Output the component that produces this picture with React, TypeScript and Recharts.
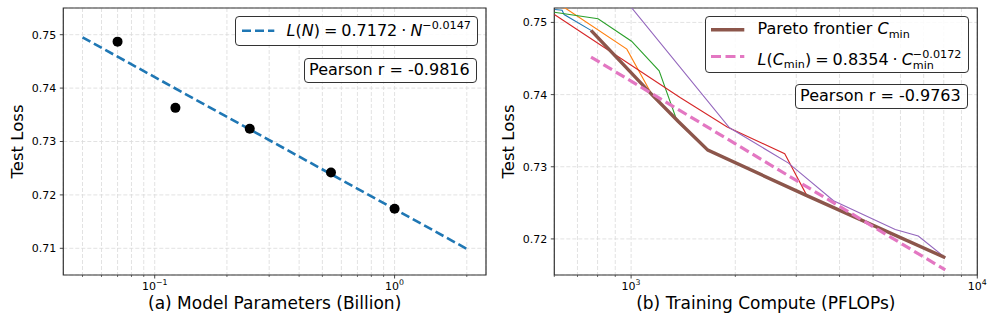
import React from 'react';
import { ComposedChart, Line, Scatter, XAxis, YAxis, CartesianGrid, ReferenceArea, Label } from 'recharts';

const FONT = "'DejaVu Sans', Verdana, sans-serif";

// ---------- panel (a) ----------
const paramsBillion = [0.07, 0.122, 0.249, 0.543, 1.0];
const testLossA = [0.7487, 0.7363, 0.7324, 0.7242, 0.7174];
const fitParams = [0.05, 2.0];
const fitLossA = [0.7495, 0.7099];
const xTicksA = [0.05, 0.06, 0.07, 0.08, 0.09, 0.1, 0.2, 0.3, 0.4, 0.5, 0.6, 0.7, 0.8, 0.9, 1, 2];
const xMajorA = [0.1, 1];
const xMajorExpA = ['\u22121', '0'];
const yTicksA = [0.71, 0.72, 0.73, 0.74, 0.75];
const yTickLabelsA = ['0.71', '0.72', '0.73', '0.74', '0.75'];
const xDomainA = [0.04158, 2.405];
const yDomainA = [0.705, 0.755];

// ---------- panel (b) ----------
const blueC = [602.9, 631.9, 640.4, 766];
const blueL = [0.7518, 0.7517, 0.7511, 0.7489];
const orangeC = [600.7, 644.7, 972, 1148];
const orangeL = [0.7522, 0.752, 0.7463, 0.74];
const greenC = [600.2, 802.6, 1003, 1205, 1358, 1423];
const greenL = [0.7514, 0.7505, 0.7474, 0.7433, 0.7363, 0.7354];
const redC = [600.2, 1385, 1895, 2778, 3219];
const redL = [0.7511, 0.7396, 0.7355, 0.7318, 0.726];
const purpleC = [929, 1924, 2849, 3843, 5794, 6753, 8081];
const purpleL = [0.754, 0.7354, 0.7305, 0.7253, 0.7213, 0.7204, 0.7174];
const paretoC = [766, 1148, 1367, 1666, 3219, 8081];
const paretoL = [0.7489, 0.74, 0.7363, 0.7323, 0.726, 0.7174];
const fitC = [766, 8081];
const fitLossB = [0.7452, 0.7157];
const xTicksB = [600, 700, 800, 900, 1000, 2000, 3000, 4000, 5000, 6000, 7000, 8000, 9000, 10000];
const xMajorB = [1000, 10000];
const xMajorExpB = ['3', '4'];
const yTicksB = [0.72, 0.73, 0.74, 0.75];
const yTickLabelsB = ['0.72', '0.73', '0.74', '0.75'];
const xDomainB = [600, 10000];
const yDomainB = [0.715, 0.752];

const rows = (xs: number[], ys: number[]) => xs.map((x, i) => ({ x, y: ys[i] }));

const AXIS = '#333';
const PLOT_TOP = 8;
const PLOT_BOTTOM = 275;

const makeXTick = (majors: number[], exps: string[]) => (props: any) => {
  const { x, y, payload } = props;
  const v = payload.value;
  const idx = majors.findIndex((m) => Math.abs(m - v) / m < 1e-6);
  const major = idx >= 0;
  return (
    <g>
      <line x1={x} x2={x} y1={y} y2={y + (major ? 3.5 : 2)} stroke={AXIS} strokeWidth={major ? 0.9 : 0.7} />
      {major && (
        <text x={x} y={y + 15} textAnchor="middle" fontSize={11} fontFamily={FONT} fill="#000">
          10
          <tspan dy={-5} fontSize={7.8}>
            {exps[idx]}
          </tspan>
        </text>
      )}
    </g>
  );
};

const makeYTick = (ticks: number[], labels: string[]) => (props: any) => {
  const { x, y, payload } = props;
  const idx = ticks.findIndex((t) => Math.abs(t - payload.value) < 1e-9);
  return (
    <g>
      <line x1={x - 3.5} x2={x} y1={y} y2={y} stroke={AXIS} strokeWidth={0.9} />
      <text x={x - 7} y={y} dy="0.36em" textAnchor="end" fontSize={11} fontFamily={FONT} fill="#000">
        {labels[idx]}
      </text>
    </g>
  );
};

const xTitle = (text: string, left: number, right: number) => () => (
  <text x={(left + right) / 2} y={PLOT_BOTTOM + 33.5} textAnchor="middle" fontSize={17} fontFamily={FONT} fill="#000">
    {text}
  </text>
);

const yTitle = (text: string, left: number) => () => {
  const cx = left - 40;
  const cy = (PLOT_TOP + PLOT_BOTTOM) / 2;
  return (
    <text x={cx} y={cy} transform={`rotate(-90, ${cx}, ${cy})`} textAnchor="middle" fontSize={16.5} fontFamily={FONT} fill="#000">
      {text}
    </text>
  );
};

const gridProps = { stroke: '#dadada', strokeDasharray: '4 2', strokeWidth: 0.8 };

// plot-area edges (within each 498px panel)
const A_LEFT = 63.3;
const A_RIGHT = 486;
const B_LEFT = 56.3;
const B_RIGHT = 479.3;

function PanelA() {
  return (
    <ComposedChart width={498} height={326} margin={{ top: PLOT_TOP, right: 498 - A_RIGHT, bottom: 21, left: A_LEFT - 50 }}>
      <CartesianGrid {...gridProps} />
      <XAxis
        dataKey="x"
        type="number"
        scale="log"
        domain={xDomainA}
        allowDataOverflow
        ticks={xTicksA}
        interval={0}
        height={30}
        tickSize={0}
        tickMargin={0}
        axisLine={false}
        tickLine={false}
        tick={makeXTick(xMajorA, xMajorExpA)}
      >
        <Label content={xTitle('(a) Model Parameters (Billion)', A_LEFT, A_RIGHT)} />
      </XAxis>
      <YAxis
        dataKey="y"
        type="number"
        domain={yDomainA}
        allowDataOverflow
        ticks={yTicksA}
        interval={0}
        width={50}
        tickSize={0}
        tickMargin={0}
        axisLine={false}
        tickLine={false}
        tick={makeYTick(yTicksA, yTickLabelsA)}
      >
        <Label content={yTitle('Test Loss', A_LEFT)} />
      </YAxis>
      <Line
        data={rows(fitParams, fitLossA)}
        dataKey="y"
        stroke="#1f77b4"
        strokeWidth={2.6}
        strokeDasharray="9 4"
        dot={false}
        activeDot={false}
        isAnimationActive={false}
      />
      <Scatter
        data={rows(paramsBillion, testLossA)}
        dataKey="y"
        fill="#000"
        isAnimationActive={false}
        shape={(p: any) => <circle cx={p.cx} cy={p.cy} r={5} fill="#000" />}
      />
      <ReferenceArea x1={xDomainA[0]} x2={xDomainA[1]} y1={yDomainA[0]} y2={yDomainA[1]} fill="none" stroke={AXIS} strokeWidth={1.2} ifOverflow="visible" />
    </ComposedChart>
  );
}

function PanelB() {
  const thin = (xs: number[], ys: number[], color: string) => (
    <Line
      data={rows(xs, ys)}
      dataKey="y"
      stroke={color}
      strokeWidth={1.1}
      dot={false}
      activeDot={false}
      isAnimationActive={false}
    />
  );
  return (
    <ComposedChart width={498} height={326} margin={{ top: PLOT_TOP, right: 498 - B_RIGHT, bottom: 21, left: B_LEFT - 50 }}>
      <CartesianGrid {...gridProps} />
      <XAxis
        dataKey="x"
        type="number"
        scale="log"
        domain={xDomainB}
        allowDataOverflow
        ticks={xTicksB}
        interval={0}
        height={30}
        tickSize={0}
        tickMargin={0}
        axisLine={false}
        tickLine={false}
        tick={makeXTick(xMajorB, xMajorExpB)}
      >
        <Label content={xTitle('(b) Training Compute (PFLOPs)', B_LEFT, B_RIGHT)} />
      </XAxis>
      <YAxis
        dataKey="y"
        type="number"
        domain={yDomainB}
        allowDataOverflow
        ticks={yTicksB}
        interval={0}
        width={50}
        tickSize={0}
        tickMargin={0}
        axisLine={false}
        tickLine={false}
        tick={makeYTick(yTicksB, yTickLabelsB)}
      >
        <Label content={yTitle('Test Loss', B_LEFT)} />
      </YAxis>
      {thin(blueC, blueL, '#1f77b4')}
      {thin(orangeC, orangeL, '#ff7f0e')}
      {thin(greenC, greenL, '#2ca02c')}
      {thin(redC, redL, '#d62728')}
      {thin(purpleC, purpleL, '#9467bd')}
      <Line
        data={rows(paretoC, paretoL)}
        dataKey="y"
        stroke="#8c564b"
        strokeWidth={3.4}
        dot={false}
        activeDot={false}
        isAnimationActive={false}
      />
      <Line
        data={rows(fitC, fitLossB)}
        dataKey="y"
        stroke="#e377c2"
        strokeWidth={3.2}
        strokeDasharray="10 4.5"
        dot={false}
        activeDot={false}
        isAnimationActive={false}
      />
      <ReferenceArea x1={xDomainB[0]} x2={xDomainB[1]} y1={yDomainB[0]} y2={yDomainB[1]} fill="none" stroke={AXIS} strokeWidth={1.2} ifOverflow="visible" />
    </ComposedChart>
  );
}

const boxStyle = (left: number, top: number, width: number, height: number): React.CSSProperties => ({
  position: 'absolute',
  left,
  top,
  width,
  height,
  boxSizing: 'border-box',
  border: '1.2px solid #333',
  borderRadius: 4,
  background: 'rgba(255,255,255,0.85)',
});

const textStyle = (left: number, top: number): React.CSSProperties => ({
  position: 'absolute',
  left,
  top,
  fontSize: 16,
  lineHeight: 1,
  whiteSpace: 'nowrap',
  fontFamily: FONT,
  color: '#000',
});

const SP = '\u2005';

const Sup = ({ children }: any) => (
  <span style={{ fontSize: '0.7em', position: 'relative', top: -7 }}>{children}</span>
);
const Sub = ({ children }: any) => (
  <span style={{ fontSize: '0.7em', position: 'relative', top: 3.4 }}>{children}</span>
);
const SubSup = ({ sub, sup }: any) => (
  <span
    style={{
      display: 'inline-flex',
      flexDirection: 'column',
      verticalAlign: 7.3,
      lineHeight: 1,
      fontSize: '0.7em',
    }}
  >
    <span>{sup}</span>
    <span>{sub}</span>
  </span>
);

export default function App() {
  return (
    <div
      style={{
        position: 'fixed',
        left: 0,
        top: 0,
        width: 996,
        height: 326,
        background: '#fff',
        fontFamily: FONT,
        overflow: 'hidden',
      }}
    >
      <div style={{ position: 'absolute', left: 0, top: 0 }}>
        <PanelA />
      </div>
      <div style={{ position: 'absolute', left: 498, top: 0 }}>
        <PanelB />
      </div>

      {/* panel (a) legend */}
      <div style={boxStyle(235, 16, 243, 30)}>
        <svg style={{ position: 'absolute', left: 5.5, top: 0 }} width={34} height={28}>
          <line x1={0} x2={32.3} y1={13.8} y2={13.8} stroke="#1f77b4" strokeWidth={2.6} strokeDasharray="9 4" />
        </svg>
        <div style={textStyle(50.5, 6)}>
          <i>L</i>(<i>N</i>){SP}={SP}0.7172{SP}·{SP}<i>N</i>
          <Sup>{'\u22120.0147'}</Sup>
        </div>
      </div>
      <div style={boxStyle(304, 58.3, 173.3, 24.4)}>
        <div style={textStyle(4.1, 2.7)}>Pearson r = -0.9816</div>
      </div>

      {/* panel (b) legend */}
      <div style={boxStyle(705, 16, 264, 57)}>
        <svg style={{ position: 'absolute', left: 4.8, top: 0 }} width={36} height={55}>
          <line x1={0} x2={33.3} y1={12.8} y2={12.8} stroke="#8c564b" strokeWidth={3.4} />
          <line x1={0} x2={33.3} y1={39.5} y2={39.5} stroke="#e377c2" strokeWidth={3.2} strokeDasharray="10 4.5" />
        </svg>
        <div style={textStyle(51.5, 4.3)}>
          Pareto frontier <i>C</i>
          <Sub>min</Sub>
        </div>
        <div style={textStyle(51.5, 31.6)}>
          <i>L</i>(<i>C</i>
          <Sub>min</Sub>){SP}={SP}0.8354{SP}·{SP}<i>C</i>
          <SubSup sub="min" sup={'\u22120.0172'} />
        </div>
      </div>
      <div style={boxStyle(795, 84.3, 173.3, 25)}>
        <div style={textStyle(4.1, 2.7)}>Pearson r = -0.9763</div>
      </div>
    </div>
  );
}
